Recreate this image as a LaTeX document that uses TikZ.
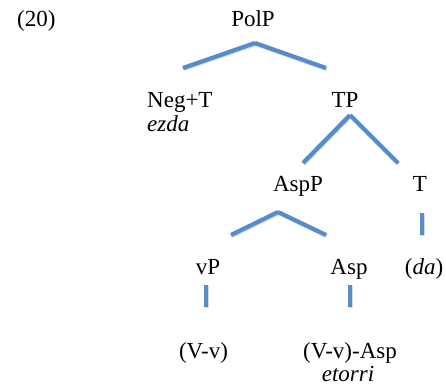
\documentclass[tikz,border=0pt]{standalone}
\usepackage{fontspec}
\setmainfont{Liberation Serif}
\definecolor{branchblue}{RGB}{86,140,202}
\begin{document}
\begin{tikzpicture}[x=1pt,y=-1pt,
  lbl/.style={anchor=base, inner sep=0pt, font=\fontsize{23}{26}\selectfont},
  branch/.style={line width=4.2pt, draw=branchblue,
    preaction={draw=black, opacity=0.15, line width=4.2pt,
      transform canvas={shift={(0.7pt,-1pt)}}}}]
\useasboundingbox (0,0) rectangle (446,386);
% labels
\node[lbl, anchor=base west] (ex) at (17,26) {(20)};
\node[lbl] (PolP) at (253,26) {PolP};
\node[lbl, anchor=base west] (NegT) at (147,107) {Neg+T};
\node[lbl, anchor=base west] (ezda) at (147,131) {\itshape ezda};
\node[lbl] (TP) at (345,107) {TP};
\node[lbl] (AspP) at (298,191) {AspP};
\node[lbl] (T) at (420,191) {T};
\node[lbl] (vP) at (208,274) {vP};
\node[lbl] (Asp) at (349,274) {Asp};
\node[lbl] (da) at (424,274) {(\textit{da})};
\node[lbl] (Vv) at (203.5,358) {(V-v)};
\node[lbl] (VvAsp) at (350,358) {(V-v)-Asp};
\node[lbl] (etorri) at (348,381) {\itshape etorri};
% branch points
\coordinate (a1) at (255,43);
\coordinate (a1l) at (183,68);
\coordinate (a1r) at (326,68);
\coordinate (a2) at (350,115);
\coordinate (a2l) at (303,163);
\coordinate (a2r) at (398,163);
\coordinate (a3) at (278,212);
\coordinate (a3l) at (231,235);
\coordinate (a3r) at (326,235);
\coordinate (t1) at (422,213);
\coordinate (t2) at (422,235);
\coordinate (v1) at (206,285);
\coordinate (v2) at (206,307);
\coordinate (s1) at (350,285);
\coordinate (s2) at (350,307);
% branches
\draw[branch] (a1) -- (a1l);
\draw[branch] (a1) -- (a1r);
\draw[branch] (a2) -- (a2l);
\draw[branch] (a2) -- (a2r);
\draw[branch] (a3) -- (a3l);
\draw[branch] (a3) -- (a3r);
\draw[branch] (t1) -- (t2);
\draw[branch] (v1) -- (v2);
\draw[branch] (s1) -- (s2);
\end{tikzpicture}
\end{document}
